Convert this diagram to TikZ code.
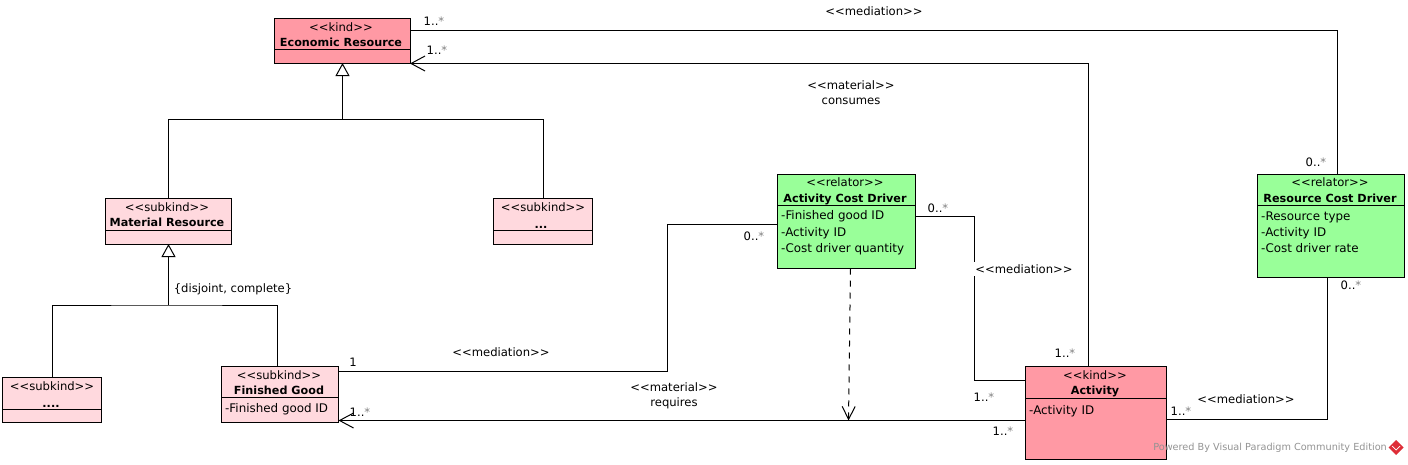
\documentclass[tikz,border=0pt]{standalone}
\usepackage{fontspec}
\setmainfont{DejaVu Sans}
\usetikzlibrary{arrows.meta}
\definecolor{kindred}{RGB}{255,153,164}
\definecolor{subkindpink}{RGB}{255,217,222}
\definecolor{relatorgreen}{RGB}{153,255,153}
\definecolor{logored}{RGB}{222,45,55}
\newcommand{\many}[1]{#1..{\color{gray}*}}
\newcommand{\guil}[1]{<{}<#1>{}>}
\tikzset{
  classbox/.style={draw=black,line width=1pt,inner sep=0pt,outer sep=0pt},
  kindbox/.style={classbox,fill=kindred},
  subkindbox/.style={classbox,fill=subkindpink},
  relatorbox/.style={classbox,fill=relatorgreen},
  stereo/.style={font=\fontsize{11.6}{13}\selectfont,inner sep=0pt,text height=9.5pt,text depth=1pt},
  classname/.style={font=\fontsize{11.2}{13}\selectfont\bfseries,inner sep=0pt,text height=9.5pt,text depth=1pt},
  attr/.style={font=\fontsize{11.9}{13}\selectfont,inner sep=0pt,anchor=west,text height=9.5pt,text depth=1pt},
  lbl/.style={font=\fontsize{11.6}{13}\selectfont,inner sep=0pt,text height=9.5pt,text depth=1pt},
  conn/.style={line width=1pt},
  genarrow/.style={conn,-{Triangle[open,fill=white,length=13pt,width=14pt,line width=1pt]}},
  openarrow/.style={conn,-{Straight Barb[length=14pt,width=15pt,line width=1pt]}},
}
\begin{document}
\begin{tikzpicture}[x=1pt,y=-1pt]
\useasboundingbox (0,0) rectangle (1408,464);
% class boxes
\node[kindbox,minimum width=135.5,minimum height=45] (eco) at (342.25,40.5) {};
\node[subkindbox,minimum width=126,minimum height=45.5] (material) at (168.5,221.25) {};
\node[subkindbox,minimum width=99,minimum height=45.5] (other) at (543,221.25) {};
\node[subkindbox,minimum width=99,minimum height=45] (rest) at (52,400) {};
\node[subkindbox,minimum width=117,minimum height=55.5] (finished) at (280,394.25) {};
\node[relatorbox,minimum width=138,minimum height=94] (acd) at (846.5,221.5) {};
\node[kindbox,minimum width=141,minimum height=92.5] (activity) at (1096,412.75) {};
\node[relatorbox,minimum width=147,minimum height=102.5] (rcd) at (1331,225.75) {};
% dividers
\draw[conn] (eco.west |- 0,49.5) -- (eco.east |- 0,49.5);
\draw[conn] (material.west |- 0,230.5) -- (material.east |- 0,230.5);
\draw[conn] (other.west |- 0,230.5) -- (other.east |- 0,230.5);
\draw[conn] (rest.west |- 0,409.5) -- (rest.east |- 0,409.5);
\draw[conn] (finished.west |- 0,397.5) -- (finished.east |- 0,397.5);
\draw[conn] (acd.west |- 0,205.5) -- (acd.east |- 0,205.5);
\draw[conn] (activity.west |- 0,398.5) -- (activity.east |- 0,398.5);
\draw[conn] (rcd.west |- 0,205.5) -- (rcd.east |- 0,205.5);
% box texts
\node[stereo] (ecoS) at (341,27) {\guil{kind}};
\node[classname] (ecoN) at (341,42) {Economic Resource};
\node[stereo] (materialS) at (167,207) {\guil{subkind}};
\node[classname] (materialN) at (167,222) {Material Resource};
\node[stereo] (otherS) at (543,207) {\guil{subkind}};
\node[classname] (otherN) at (541,224) {...};
\node[stereo] (restS) at (52,386) {\guil{subkind}};
\node[classname] (restN) at (51,403) {....};
\node[stereo] (finishedS) at (279,375) {\guil{subkind}};
\node[classname] (finishedN) at (279,390) {Finished Good};
\node[attr] (finishedA) at (225,408) {-Finished good ID};
\node[stereo] (acdS) at (845,182) {\guil{relator}};
\node[classname] (acdN) at (845,198) {Activity Cost Driver};
\node[attr] (acdA) at (781,215) {-Finished good ID};
\node[attr] (acdB) at (781,232) {-Activity ID};
\node[attr] (acdC) at (781,248) {-Cost driver quantity};
\node[stereo] (activityS) at (1095,375) {\guil{kind}};
\node[classname] (activityN) at (1095,390) {Activity};
\node[attr] (activityA) at (1029,410) {-Activity ID};
\node[stereo] (rcdS) at (1330,182) {\guil{relator}};
\node[classname] (rcdN) at (1330,198) {Resource Cost Driver};
\node[attr] (rcdA) at (1261,216) {-Resource type};
\node[attr] (rcdB) at (1261,232) {-Activity ID};
\node[attr] (rcdC) at (1261,248) {-Cost driver rate};
% generalisations
\coordinate (ecoJoin) at (342.5,119.5);
\coordinate (materialJoin) at (168.5,305);
\draw[genarrow] (ecoJoin) -- (ecoJoin |- eco.south);
\draw[conn] (material.north) -- (material.north |- ecoJoin) -- (other.north |- ecoJoin) -- (other.north);
\draw[genarrow] (materialJoin) -- (material.south);
\draw[conn] (rest.north) |- (materialJoin) -| (277.5,366.5);
% associations
\coordinate (topBend) at (1337,30);
\draw[conn] (eco.east |- topBend) -- (topBend) -- (rcd.north -| topBend);
\coordinate (consumeBend) at (1088.5,63.5);
\draw[openarrow] (activity.north -| consumeBend) -- (consumeBend) -- (eco.east |- consumeBend);
\coordinate (leftUp) at (667,224);
\coordinate (leftDown) at (667,371.5);
\draw[conn] (acd.west |- leftUp) -- (leftUp) -- (leftDown) -- (finished.east |- leftDown);
\coordinate (rightUp) at (974.5,216.5);
\coordinate (rightDown) at (974.5,380.5);
\draw[conn] (acd.east |- rightUp) -- (rightUp) -- (rightDown) -- (activity.west |- rightDown);
\coordinate (requireEnd) at (338.5,420.5);
\draw[openarrow] (activity.west |- requireEnd) -- (requireEnd);
\coordinate (dashStart) at (850.5,268.5);
\coordinate (dashTip) at (848.5,420.5);
\draw[conn,dash pattern=on 6pt off 6pt,-{Straight Barb[length=13pt,width=13pt,line width=1pt]}] (dashStart) -- (dashTip);
\coordinate (lowBend) at (1327.5,419);
\draw[conn] (activity.east |- lowBend) -- (lowBend) -- (rcd.south -| lowBend);
% labels on connectors
\node[lbl] (topMed) at (874,11) {\guil{mediation}};
\node[lbl] (consumesA) at (851,85) {\guil{material}};
\node[lbl] (consumesB) at (851,100) {consumes};
\node[lbl,fill=white,inner sep=2pt] (rightMed) at (1024,269) {\guil{mediation}};
\node[lbl] (leftMed) at (501,352) {\guil{mediation}};
\node[lbl] (requiresA) at (674,387) {\guil{material}};
\node[lbl] (requiresB) at (674,402) {requires};
\node[lbl] (lowMed) at (1246,399) {\guil{mediation}};
\node[lbl] (constraint) at (233,288) {\{disjoint, complete\}};
% multiplicities
\node[lbl] (mA) at (434,21) {\many{1}};
\node[lbl] (mB) at (437,50) {\many{1}};
\node[lbl] (mC) at (1316,162) {\many{0}};
\node[lbl] (mD) at (1351,285) {\many{0}};
\node[lbl] (mE) at (754,236) {\many{0}};
\node[lbl] (mF) at (938,208) {\many{0}};
\node[lbl] (mG) at (1065,353) {\many{1}};
\node[lbl] (mH) at (984,397) {\many{1}};
\node[lbl] (mI) at (1003,431) {\many{1}};
\node[lbl] (mJ) at (1181,411) {\many{1}};
\node[lbl] (mK) at (353,362) {1};
\node[lbl] (mL) at (360,412) {\many{1}};
% watermark
\node[font=\fontsize{9.7}{11}\selectfont,text=gray!85,inner sep=0pt,anchor=east,text height=7.5pt,text depth=1pt] (mark) at (1387,447.5) {Powered By Visual Paradigm Community Edition};
\fill[logored] (1396,440) -- (1403.5,447.5) -- (1396,455) -- (1388.5,447.5) -- cycle;
\draw[white,line width=0.7pt] (1392,446) -- (1396,450) -- (1400,446);
\end{tikzpicture}
\end{document}
